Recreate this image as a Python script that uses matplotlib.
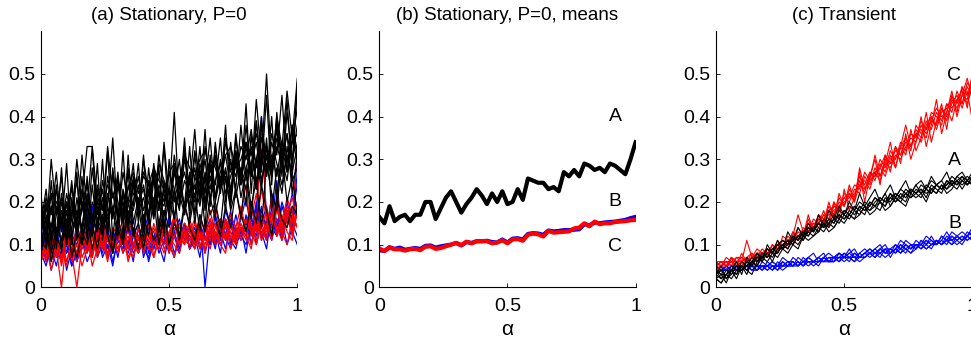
import numpy as np
import matplotlib
matplotlib.use('Agg')
import matplotlib.pyplot as plt

# ─────────────────────────────────────────
# Data (in hundredths)
# ─────────────────────────────────────────
ALPHA = np.linspace(0, 1, 51)

# (a) stationary, P=0 : individual runs
A_BLACK = [
    [20,13,30,17,26,12,24,15,31,18, 33,14,25,19,35,16,27,20,29,15, 30,22,26,18,34,21,41,19,30,24, 37,20,33,25,30,22,35,27,32,24, 38,26,44,30,50,28,40,33,46,35,49],
    [15,23,11,19,14,29,10,21,13,26, 12,22,15,32,11,24,17,27,12,20, 23,16,28,13,25,18,22,30,17,26, 21,33,19,28,24,35,20,30,23,38, 25,33,29,40,26,36,31,45,27,34,42],
    [10,16,8,14,11,18,7,13,10,17, 9,15,12,19,8,16,11,20,13,9, 17,12,21,10,18,14,23,11,19,15, 22,13,24,17,20,14,26,18,23,16, 28,19,25,14,29,22,18,31,20,26,17],
    [18,12,22,9,20,15,25,11,19,14, 28,17,23,13,27,20,16,24,19,29, 14,25,18,31,22,17,27,21,33,16, 26,22,30,19,34,23,28,21,36,25, 31,27,39,24,33,29,37,26,41,30,38],
    [12,19,14,23,16,10,21,13,18,24, 16,20,13,26,18,12,22,15,25,19, 11,23,17,28,14,21,16,24,19,27, 15,25,20,29,17,23,26,19,31,21, 27,16,30,23,35,18,28,22,33,25,28],
    [8,14,6,12,9,16,11,7,13,10, 15,9,17,12,8,14,10,18,12,15, 9,16,11,13,18,10,15,12,20,14, 11,17,13,21,16,12,19,14,23,17, 13,20,15,24,18,12,21,16,14,19,17],
    [14,21,17,27,13,22,16,30,19,25, 15,23,18,33,21,26,17,28,22,19, 27,24,20,29,25,18,31,23,27,21, 32,26,22,30,28,24,34,29,26,33, 30,37,28,35,32,26,39,31,36,29,47],
    [13,18,22,20,16,19,23,17,21,33, 33,20,18,24,21,25,19,23,27,22, 26,24,28,25,23,27,29,25,31,28, 26,30,32,27,29,25,31,33,28,30, 34,31,36,29,33,27,35,32,30,34,36],
    [11,9,15,12,18,10,16,13,20,15, 12,19,14,17,22,16,20,13,24,18, 21,15,25,19,17,23,20,26,18,22, 24,19,27,21,25,29,22,26,30,24, 28,32,25,30,27,34,29,24,31,27,33],
    [17,10,19,13,15,20,12,18,14,22, 17,13,21,16,19,14,23,17,20,26, 18,22,16,24,20,27,21,19,25,22, 28,21,26,23,31,24,27,22,29,25, 33,26,30,35,28,31,26,34,29,38,32],
    [22,9,25,12,28,10,20,14,26,11, 24,13,30,12,27,15,32,14,25,17, 31,15,28,18,33,16,29,20,35,18, 31,21,37,19,33,23,38,20,35,25, 43,22,39,27,45,24,41,28,44,26,48],
    [9,17,12,24,8,20,13,27,10,19, 14,29,11,22,16,26,12,31,15,21, 13,28,17,23,12,30,16,25,19,33, 17,27,14,31,20,26,18,34,21,28, 19,36,23,30,26,40,21,33,27,38,30],
    [16,13,19,11,22,14,18,25,12,21, 16,24,19,14,28,17,22,15,26,20, 24,17,29,21,19,27,23,18,32,22, 20,29,24,35,21,27,31,23,29,26, 34,28,23,38,30,26,33,29,36,22,31],
    [13,20,10,17,21,11,18,14,23,12, 20,16,13,22,17,27,15,21,18,24, 16,20,26,14,23,19,28,22,17,25, 23,28,18,26,21,30,25,20,32,27, 23,29,34,25,31,28,38,30,25,35,29],
]
A_BLUE = [
    [6,10,4,9,7,12,5,8,11,6, 9,13,7,10,5,12,8,11,6,14, 9,7,12,10,6,13,8,11,14,9, 12,7,15,10,13,8,16,11,9,14, 12,17,10,15,19,12,16,11,18,13,10],
    [9,13,7,11,15,8,12,10,14,9, 19,11,8,13,10,16,12,9,14,11, 13,17,10,12,15,9,13,16,11,14, 10,17,0,13,15,11,18,14,12,16, 21,13,17,40,15,18,14,20,16,22,18],
    [11,7,14,9,6,12,8,15,10,18, 12,9,14,7,11,13,10,8,12,15, 7,11,9,14,12,8,16,10,13,11, 9,14,12,10,17,13,9,15,11,14, 8,16,13,19,11,15,25,12,17,14,27],
    [8,5,10,7,12,4,9,6,11,8, 13,7,10,12,6,11,9,14,8,10, 12,6,11,9,13,10,7,12,15,9, 11,14,8,13,10,16,12,9,14,11, 17,10,15,13,9,18,12,16,10,14,32],
    [14,9,12,8,16,10,13,7,11,9, 17,12,10,14,8,13,11,15,9,12, 10,14,13,8,11,16,12,10,14,9, 13,11,15,12,10,14,11,16,13,12, 10,15,12,18,14,11,16,13,20,15,12],
    [7,12,9,5,11,8,13,6,10,14, 8,11,15,9,12,7,13,10,16,8, 11,14,9,13,10,17,12,8,15,11, 14,9,13,16,11,15,12,18,10,13, 16,12,19,14,11,22,15,13,18,16,19],
    [10,6,9,12,7,10,5,13,9,11, 7,14,10,8,13,11,9,15,10,12, 14,8,12,10,16,11,13,9,14,12, 10,15,11,13,9,16,14,10,17,12, 15,13,20,11,16,14,12,19,15,17,24],
]
A_RED = [
    [7,11,4,9,6,13,8,0,10,12, 5,9,14,7,11,8,13,6,10,12, 9,15,7,11,13,8,12,10,14,9, 11,13,8,15,10,12,16,9,13,11, 14,10,17,12,15,11,19,13,10,16,14],
    [12,8,14,10,7,12,9,6,13,8, 11,15,9,12,10,14,8,11,13,10, 12,9,15,11,8,13,16,10,12,14, 9,13,11,16,12,10,15,13,11,17, 24,12,16,14,11,18,13,15,17,12,19],
    [9,6,11,9,0,12,7,10,5,9, 14,8,11,6,12,9,13,7,10,14, 8,12,10,15,9,11,7,13,10,16, 12,9,14,11,13,10,8,15,12,14, 11,20,13,38,16,12,22,14,19,15,33],
    [6,10,8,12,5,11,9,14,7,10, 13,8,12,16,9,11,14,10,7,12, 10,13,11,9,14,12,10,8,13,11, 15,10,12,9,14,16,11,13,10,15, 12,9,16,11,14,21,12,17,13,11,18],
    [10,13,7,9,12,6,11,8,10,13, 7,12,9,11,8,14,10,12,9,11, 15,10,7,13,11,9,14,12,10,13, 11,14,9,12,15,10,13,11,14,12, 16,13,10,15,12,17,14,11,16,13,20],
    [8,9,12,7,10,14,6,12,9,11, 8,13,10,15,12,9,11,13,10,8, 12,11,14,10,13,9,12,15,11,10, 13,12,10,14,11,13,15,12,10,14, 13,15,11,17,13,14,16,12,18,14,15],
    [11,7,13,9,6,14,10,8,12,15, 9,13,11,7,14,12,16,9,13,11, 15,12,10,16,13,11,17,14,12,15, 10,16,13,18,12,15,11,17,14,19, 13,16,22,14,18,15,20,13,17,21,16],
    [7,10,6,11,9,5,12,8,14,10, 12,7,15,11,9,13,10,16,12,8, 13,15,11,9,14,12,17,10,15,13, 16,11,14,12,19,13,16,14,12,17, 15,19,14,23,16,13,18,15,21,17,14],
]

# (b) means
B_MEAN_A = [16.5,15,19,15.5,16.5,17,15.5,17,17,20, 20,16,18.5,21,22.5,20,17.5,19.5,21,23,
            21.5,19.5,22,20,22.5,19.5,20,23,20.5,25.5, 25,24.5,24.5,23,23.5,22.5,27,26,27.5,26,
            29,28.5,27.5,28,27,29,28.5,27.5,26.5,30,34]
B_MEAN_B = [8.7,8.5,9.4,9.0,9.3,8.8,9.0,9.2,9.0,9.7, 9.8,9.3,9.6,9.8,10.0,10.4,9.8,10.6,10.4,10.8,
            10.8,10.9,10.6,10.5,11.2,10.5,11.4,11.5,11.2,12.5, 12.7,12.6,12.3,13.3,13.1,13.2,13.4,13.4,13.5,13.6,
            14.8,14.5,15.2,15.0,15.2,15.3,15.4,15.6,15.8,16.2,16.5]
B_MEAN_C = [9.1,8.5,9.3,8.9,8.9,8.6,8.9,9.0,8.7,9.5, 9.6,9.0,9.2,9.6,10.0,10.4,9.9,10.7,10.3,10.8,
            10.8,10.8,10.3,10.5,11.0,10.3,11.2,11.3,10.9,12.3, 12.6,12.4,11.9,13.2,12.8,12.9,13.0,13.1,13.8,14.0,
            15.0,14.3,15.4,14.8,15.0,15.0,15.3,15.4,15.5,15.7,15.8]

# (c) transient runs
C_RED = [
    [5,6,5,6,7,6,11,7,6,8, 9,8,10,9,12,11,13,12,15,14, 16,15,19,17,21,19,23,21,25,22, 27,25,29,27,31,28,33,38,33,36, 37,35,40,38,42,39,44,42,45,44,50],
    [6,5,6,5,6,7,6,7,8,7, 8,9,9,11,10,12,17,13,14,15, 15,17,16,19,18,21,20,23,22,26, 24,28,26,30,29,33,31,34,33,37, 35,39,37,41,39,43,41,46,43,47,45],
    [5,5,6,6,5,6,7,6,7,8, 7,9,8,10,10,11,12,13,13,15, 14,16,17,18,19,20,21,22,24,23, 26,27,25,29,28,31,30,33,35,34, 38,36,39,38,42,40,43,45,42,46,39],
    [4,5,5,6,6,5,6,7,7,7, 9,8,10,9,11,11,12,12,14,13, 16,15,18,17,20,19,22,20,24,25, 23,27,28,26,30,32,31,35,33,36, 34,38,40,37,41,42,39,44,46,43,47],
    [6,6,5,7,6,6,7,6,8,8, 8,9,10,10,11,12,11,14,13,16, 15,17,16,20,18,22,21,24,23,27, 25,26,30,28,32,30,34,32,36,35, 39,37,41,40,38,43,42,44,43,48,46],
    [5,6,6,5,7,7,6,8,7,9, 8,10,9,11,10,13,12,13,15,14, 17,16,18,19,19,21,22,21,26,24, 27,26,28,31,29,30,33,35,32,38, 36,37,39,42,40,41,45,43,47,45,48],
    [5,6,5,7,6,5,7,8,6,7, 9,8,11,9,10,13,11,12,17,13, 15,18,14,20,16,23,18,21,27,20, 26,30,24,31,27,33,29,36,30,34, 40,33,38,44,36,41,46,40,45,49,44],
    [6,5,7,6,5,8,6,7,9,8, 7,10,8,12,11,10,14,12,16,13, 17,15,20,16,22,19,24,20,28,23, 25,31,26,29,34,28,33,31,37,32, 35,41,34,39,43,37,45,41,47,42,50],
]
C_BLACK = [
    [3,2,4,3,5,4,6,5,7,6, 8,7,9,9,10,11,10,12,13,12, 14,13,15,16,15,17,16,18,17,19, 18,19,20,19,21,20,21,22,21,22, 23,22,23,24,23,24,25,24,25,26,25],
    [2,3,1,4,3,5,4,6,5,8, 7,9,8,10,11,10,12,11,13,14, 13,15,14,16,17,16,18,17,19,18, 20,19,18,21,20,22,21,20,23,22, 21,23,22,24,23,25,24,23,25,24,26],
    [4,3,3,5,4,4,6,5,7,7, 9,8,8,10,9,12,11,13,12,14, 15,14,16,15,17,16,17,19,18,20, 19,21,20,22,19,21,23,22,21,23, 22,24,23,22,24,23,25,24,26,25,24],
    [2,1,3,2,4,5,3,6,5,7, 8,6,9,10,9,11,12,11,14,13, 15,14,15,17,16,18,17,19,18,17, 20,19,21,20,22,21,20,22,23,22, 24,23,22,24,25,23,24,26,25,24,26],
    [3,4,2,3,5,4,5,7,6,8, 7,9,10,9,11,10,12,13,12,14, 13,16,15,14,16,18,17,16,19,18, 19,21,20,19,22,20,22,21,23,22, 23,21,24,23,22,25,24,25,24,25,27],
    [4,2,3,4,3,6,5,6,8,7, 9,8,10,11,10,12,11,13,14,13, 15,14,16,15,18,17,19,18,20,19, 18,20,21,20,21,22,21,23,22,24, 22,23,25,24,23,24,26,25,26,24,25],
    [3,5,2,4,6,3,7,5,8,6, 10,8,11,9,13,11,14,12,15,13, 17,14,18,16,19,17,20,18,22,19, 21,23,20,22,24,21,23,25,22,24, 25,23,26,24,25,27,24,26,27,25,26],
    [2,1,3,4,2,5,4,3,6,7, 6,8,7,9,8,10,9,12,11,12, 13,15,13,14,16,15,17,16,17,19, 17,18,20,18,19,21,20,19,22,21, 22,20,23,22,24,22,23,25,23,25,24],
]
C_BLUE = [
    [4,4,5,4,5,4,5,4,5,5, 5,4,5,5,5,6,5,6,5,6, 6,7,6,6,7,6,7,7,6,7, 8,7,8,7,8,9,8,9,8,9, 10,9,10,11,10,11,10,11,12,11,12],
    [3,4,4,7,4,5,4,5,4,5, 4,5,5,6,5,5,6,5,6,6, 7,6,6,7,6,7,8,7,7,8, 7,8,9,8,9,8,9,10,9,10, 9,10,11,10,11,10,12,11,10,12,13],
    [5,4,4,5,4,4,5,5,4,5, 5,5,4,5,6,5,5,6,6,5, 6,6,7,6,7,7,6,8,7,7, 8,8,7,9,8,9,10,9,8,10, 10,9,10,11,10,12,11,10,11,12,11],
    [4,5,4,4,5,5,4,5,5,4, 5,6,5,5,6,6,5,6,7,6, 6,7,6,7,7,8,7,6,8,7, 8,7,9,8,8,10,9,8,10,9, 11,10,9,11,10,11,12,11,12,11,12],
    [4,3,5,4,4,5,5,4,5,5, 4,5,5,4,5,5,6,5,6,6, 5,7,6,6,8,7,7,6,7,8, 9,8,8,9,7,9,8,10,9,10, 10,11,10,10,12,11,10,12,11,13,12],
    [5,4,4,5,5,4,5,4,4,5, 5,4,6,5,5,6,5,7,6,6, 7,6,7,7,6,8,7,8,7,8, 8,9,8,9,9,8,10,9,10,10, 9,11,10,11,10,11,11,12,11,12,11],
    [4,5,6,5,4,6,5,5,4,6, 5,6,5,7,6,5,7,6,7,8, 6,7,8,7,8,7,9,7,8,9, 8,9,10,8,9,10,9,11,10,9, 11,10,12,10,11,13,11,12,13,12,13],
    [3,4,5,4,6,4,5,6,5,4, 6,5,4,6,5,7,6,5,7,6, 7,8,6,7,8,7,8,9,7,8, 9,8,9,10,8,9,11,10,9,11, 10,12,11,10,12,11,13,12,11,12,14],
]

TITLES = ['(a) Stationary, P=0', '(b) Stationary, P=0, means', '(c) Transient']
Y_TICKS = [0, 0.1, 0.2, 0.3, 0.4, 0.5]
X_TICKS = [0, 0.5, 1]

BLACK, BLUE, RED = '#000000', '#0000ff', '#ff0000'

plt.rcParams['font.family'] = ['Liberation Sans', 'DejaVu Sans']


def style_axes(ax, title):
    ax.set_xlim(0, 1)
    ax.set_ylim(0, 0.6)
    ax.set_xticks(X_TICKS)
    ax.set_xticklabels(['0', '0.5', '1'])
    ax.set_yticks(Y_TICKS)
    ax.set_yticklabels(['0', '0.1', '0.2', '0.3', '0.4', '0.5'])
    ax.tick_params(direction='in', length=3, width=0.6, labelsize=14)
    ax.tick_params(axis='x', pad=8)
    ax.tick_params(axis='y', pad=4)
    for side in ['top', 'right']:
        ax.spines[side].set_visible(False)
    for side in ['left', 'bottom']:
        ax.spines[side].set_linewidth(0.8)
    ax.set_xlabel('α', fontsize=15, labelpad=3)
    ax.set_title(title, fontsize=13.5, pad=8)


fig = plt.figure(figsize=(9.71, 3.41), dpi=100)
W, H, B = 0.264, 0.7507, 0.1575
ax_a = fig.add_axes([0.0422, B, W, H])
ax_b = fig.add_axes([0.3906, B, W, H])
ax_c = fig.add_axes([0.7374, B, W, H])

# (a)
for row in A_BLUE:
    ax_a.plot(ALPHA, np.array(row) / 100, color=BLUE, lw=0.9)
for row in A_RED:
    ax_a.plot(ALPHA, np.array(row) / 100, color=RED, lw=0.9)
for row in A_BLACK:
    ax_a.plot(ALPHA, np.array(row) / 100, color=BLACK, lw=0.9)
style_axes(ax_a, TITLES[0])

# (b)
ax_b.plot(ALPHA, np.array(B_MEAN_A) / 100, color=BLACK, lw=3)
ax_b.plot(ALPHA, np.array(B_MEAN_B) / 100, color=BLUE, lw=3)
ax_b.plot(ALPHA, np.array(B_MEAN_C) / 100, color=RED, lw=3)
for lab, yy in [('A', 0.4), ('B', 0.2), ('C', 0.095)]:
    ax_b.text(0.92, yy, lab, fontsize=14, ha='center', va='center')
style_axes(ax_b, TITLES[1])

# (c)
for row in C_BLUE:
    ax_c.plot(ALPHA, np.array(row) / 100, color=BLUE, lw=0.8)
for row in C_RED:
    ax_c.plot(ALPHA, np.array(row) / 100, color=RED, lw=0.8)
for row in C_BLACK:
    ax_c.plot(ALPHA, np.array(row) / 100, color=BLACK, lw=0.8)
for lab, yy in [('C', 0.497), ('A', 0.297), ('B', 0.15)]:
    ax_c.text(0.93, yy, lab, fontsize=14, ha='center', va='center')
style_axes(ax_c, TITLES[2])

fig.savefig('out.png', dpi=100)
